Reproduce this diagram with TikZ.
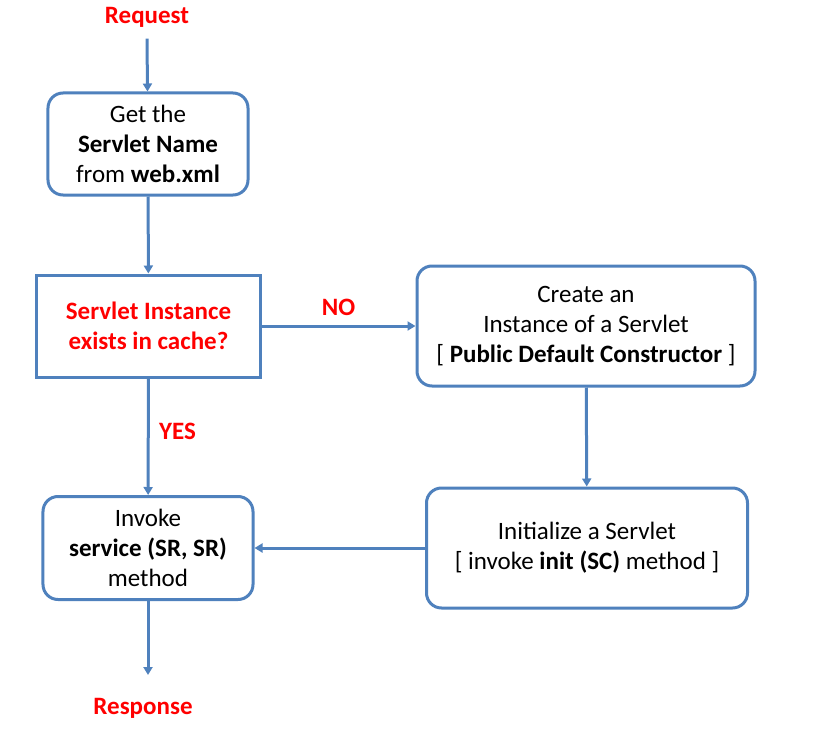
\documentclass[tikz,border=0pt]{standalone}
\usepackage{fontspec}
\setmainfont{Carlito}
\usetikzlibrary{arrows.meta,positioning}
\definecolor{lineblue}{HTML}{4F81BD}
\definecolor{labelred}{HTML}{FF0000}

\begin{document}
\begin{tikzpicture}[
  x=1bp, y=-1bp,
  every node/.style={font=\fontsize{25bp}{30bp}\selectfont, align=center},
  roundbox/.style={rectangle, rounded corners=15bp, draw=lineblue, line width=3bp, fill=white, inner sep=0pt},
  squarebox/.style={rectangle, draw=lineblue, line width=3bp, fill=white, inner sep=0pt},
  redtext/.style={text=labelred, font=\fontsize{25bp}{30bp}\selectfont\bfseries},
  arrow/.style={-{Triangle[length=8bp,width=9bp]}, draw=lineblue, line width=3bp}
]
  \useasboundingbox (0,0) rectangle (819,736);

  \node (request) [redtext] at (147,17) {Request};
  \node (getname) [roundbox, minimum width=200bp, minimum height=102bp] at (148,144)
    {Get the\\\textbf{Servlet Name}\\from \textbf{web.xml}};
  \node (cache) [squarebox, redtext, minimum width=223bp, minimum height=102bp] at (148.5,326)
    {Servlet Instance\\exists in cache?};
  \node (create) [roundbox, minimum width=338bp, minimum height=120bp] at (586,326)
    {Create an\\Instance of a Servlet\\{[} \textbf{Public Default Constructor} {]}};
  \node (init) [roundbox, minimum width=321bp, minimum height=120bp] at (587,548)
    {Initialize a Servlet\\{[} invoke \textbf{init (SC)} method {]}};
  \node (service) [roundbox, minimum width=210bp, minimum height=103bp] at (148,548)
    {Invoke\\\textbf{service (SR, SR)}\\method};
  \node (response) [redtext] at (143,708) {Response};

  \draw [arrow] (request.south) ++(0,8) coordinate (reqend) -- (getname);
  \draw [arrow] (getname) -- (cache);
  \draw [arrow] (cache) -- node[redtext, above=6bp] {NO} (create);
  \draw [arrow] (create) -- (init);
  \draw [arrow] (cache) -- node[redtext, right=6bp, pos=0.45] {YES} (service);
  \draw [arrow] (init) -- (service);
  \draw [arrow] (service) -- (148,675) coordinate (respin);
\end{tikzpicture}
\end{document}
